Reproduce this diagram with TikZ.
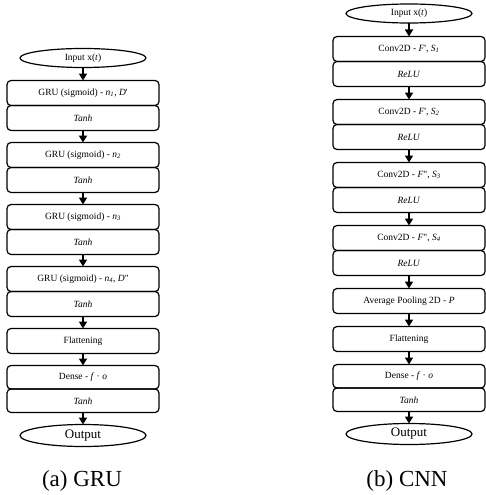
\documentclass[tikz,border=0pt]{standalone}
\usepackage{fontspec}
\setmainfont{Liberation Serif}
\usetikzlibrary{positioning,shapes.geometric,arrows.meta}

\tikzset{
  layer/.style={draw, line width=1.2pt, rounded corners=4pt, minimum width=152pt,
    minimum height=25pt, inner sep=0pt, outer sep=0pt, font=\fontsize{9.5}{11}\selectfont},
  thinlayer/.style={layer, minimum height=23.5pt},
  io/.style={draw, ellipse, line width=1.2pt, minimum width=126pt, minimum height=19pt,
    inner sep=0pt, outer sep=0pt, font=\fontsize{9.5}{11}\selectfont},
  flow/.style={line width=1.7pt, -{Triangle[width=8pt,length=7pt]}},
  subcap/.style={font=\fontsize{23}{27}\selectfont}
}

\begin{document}
\begin{tikzpicture}[x=1pt,y=-1pt]

\useasboundingbox (0,0) rectangle (485,495);

\node [io] (gin) at (83,58) {Input x(\textit{t})};
\node [layer, below=13pt of gin] (g1) {GRU (sigmoid) - \textit{n\textsubscript{1}}, \textit{D}\textquotesingle};
\node [layer, below=0pt of g1] (gt1) {\textit{Tanh}};
\node [layer, below=12pt of gt1] (g2) {GRU (sigmoid) - \textit{n\textsubscript{2}}};
\node [layer, below=0pt of g2] (gt2) {\textit{Tanh}};
\node [layer, below=12pt of gt2] (g3) {GRU (sigmoid) - \textit{n\textsubscript{3}}};
\node [layer, below=0pt of g3] (gt3) {\textit{Tanh}};
\node [layer, below=12pt of gt3] (g4) {GRU (sigmoid) - \textit{n\textsubscript{4}}, \textit{D}\textquotedbl};
\node [layer, below=0pt of g4] (gt4) {\textit{Tanh}};
\node [layer, below=12pt of gt4] (gflat) {Flattening};
\node [thinlayer, below=12pt of gflat] (gdense) {Dense - \textit{f} · \textit{o}};
\node [thinlayer, below=0pt of gdense] (gt5) {\textit{Tanh}};
\node [io, minimum height=22pt, font=\fontsize{13}{15}\selectfont, below=12pt of gt5] (gout) {Output};
\node [subcap] (gcap) at (82,481) {(a) GRU};

\draw [flow] (gin) -- (g1);
\draw [flow] (gt1) -- (g2);
\draw [flow] (gt2) -- (g3);
\draw [flow] (gt3) -- (g4);
\draw [flow] (gt4) -- (gflat);
\draw [flow] (gflat) -- (gdense);
\draw [flow] (gt5) -- (gout);

\node [io] (cin) at (409,13.5) {Input x(\textit{t})};
\node [layer, below=13.5pt of cin] (c1) {Conv2D - \textit{F}\textquotesingle, \textit{S\textsubscript{1}}};
\node [layer, below=0pt of c1] (cr1) {\textit{ReLU}};
\node [layer, below=13pt of cr1] (c2) {Conv2D - \textit{F}\textquotesingle, \textit{S\textsubscript{2}}};
\node [layer, below=0pt of c2] (cr2) {\textit{ReLU}};
\node [layer, below=13pt of cr2] (c3) {Conv2D - \textit{F}\textquotedbl, \textit{S\textsubscript{3}}};
\node [layer, below=0pt of c3] (cr3) {\textit{ReLU}};
\node [layer, below=13pt of cr3] (c4) {Conv2D - \textit{F}\textquotedbl, \textit{S\textsubscript{4}}};
\node [layer, below=0pt of c4] (cr4) {\textit{ReLU}};
\node [layer, below=13pt of cr4] (cpool) {Average Pooling 2D - \textit{P}};
\node [layer, below=13pt of cpool] (cflat) {Flattening};
\node [thinlayer, below=13pt of cflat] (cdense) {Dense - \textit{f} · \textit{o}};
\node [thinlayer, below=0pt of cdense] (ct5) {\textit{Tanh}};
\node [io, minimum height=21pt, font=\fontsize{13}{15}\selectfont, below=12pt of ct5] (cout) {Output};
\node [subcap] (ccap) at (407,481) {(b) CNN};

\draw [flow] (cin) -- (c1);
\draw [flow] (cr1) -- (c2);
\draw [flow] (cr2) -- (c3);
\draw [flow] (cr3) -- (c4);
\draw [flow] (cr4) -- (cpool);
\draw [flow] (cpool) -- (cflat);
\draw [flow] (cflat) -- (cdense);
\draw [flow] (ct5) -- (cout);

\end{tikzpicture}
\end{document}
